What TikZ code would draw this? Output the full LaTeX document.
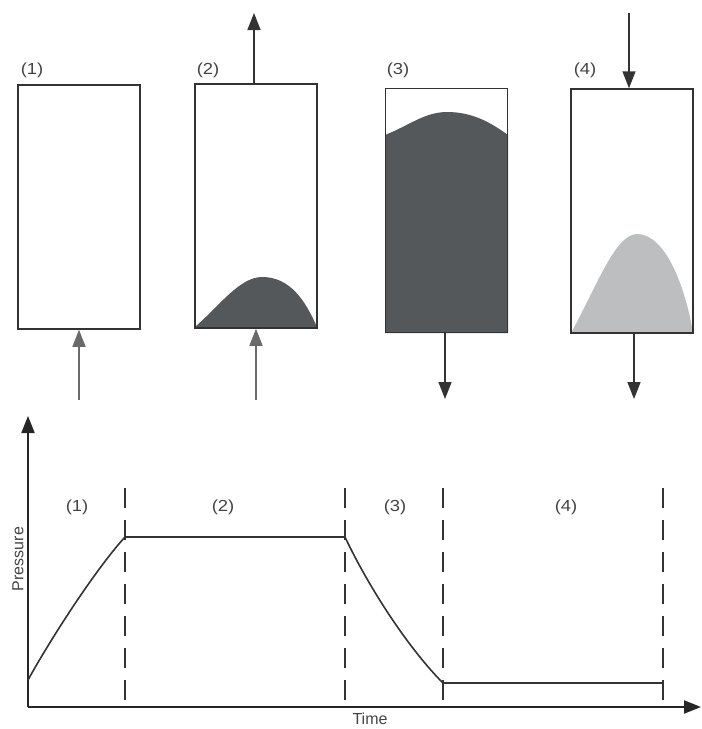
\documentclass[tikz,border=0pt]{standalone}
\usepackage{fontspec}
\setmainfont{Liberation Sans}
\usetikzlibrary{arrows.meta}
\definecolor{darkfill}{HTML}{55585A}
\definecolor{lightfill}{HTML}{BCBEC0}
\definecolor{inkgray}{HTML}{333333}
\definecolor{labelgray}{HTML}{444444}
\definecolor{feedgray}{HTML}{6A6A6A}
\tikzset{
  column/.style={draw=inkgray, line width=1.5pt, inner sep=0pt, minimum width=122pt, minimum height=244pt},
  tip/.style={-{Triangle[length=17pt,width=13pt]}},
  flow/.style={line width=1.6pt, draw=inkgray, tip},
  feed/.style={line width=1.6pt, draw=feedgray, tip},
  lbl/.style={text=labelgray, font=\fontsize{16}{19}\selectfont, inner sep=0pt},
  numlbl/.style={lbl, xscale=1.15},
  axis/.style={line width=2pt, draw=black!85, tip},
  phase/.style={line width=1.3pt, draw=inkgray, dash pattern=on 20pt off 12pt},
  trace/.style={line width=1.6pt, draw=inkgray}
}
\begin{document}
\begin{tikzpicture}[x=1pt, y=-1pt]
\useasboundingbox (0,0) rectangle (702,729);

% bed contents
\fill[darkfill] (195,327) .. controls (220,305) and (240,277) .. (262,277)
  .. controls (290,277) and (305,300) .. (317,327) -- cycle;
\fill[darkfill] (385,333) -- (385,135) .. controls (410,125) and (425,112) .. (447,112)
  .. controls (472,112) and (490,122) .. (508,135) -- (508,333) -- cycle;
\fill[lightfill] (571,333) .. controls (595,290) and (615,234) .. (637,234)
  .. controls (665,234) and (685,285) .. (693,333) -- cycle;

% adsorber columns
\node[column] (b1) at (79,207) {};
\node[column] (b2) at (256,206) {};
\node[column] (b3) at (446.5,210.5) {};
\node[column] (b4) at (632,211) {};

\node[numlbl] (l1) at (32,70) {(1)};
\node[numlbl] (l2) at (208,70) {(2)};
\node[numlbl] (l3) at (398,70) {(3)};
\node[numlbl] (l4) at (585,70) {(4)};

% streams
\coordinate (f1) at (79,400);
\coordinate (f2) at (256,400);
\coordinate (o2) at (254,13);
\coordinate (o3) at (445,399);
\coordinate (i4) at (629,13);
\coordinate (o4) at (634,399);
\draw[feed] (f1) -- (b1.south);
\draw[feed] (f2) -- (b2.south);
\draw[flow] (o2 |- b2.north) -- (o2);
\draw[flow] (o3 |- b3.south) -- (o3);
\draw[flow] (i4) -- (i4 |- b4.north);
\draw[flow] (o4 |- b4.south) -- (o4);

% pressure history
\coordinate (orig) at (28,707);
\coordinate (ytip) at (28,416);
\coordinate (xtip) at (701,707);
\draw[axis] (orig) -- (ytip);
\draw[axis] (orig) -- (xtip);

\foreach \x/\n in {125/d1, 345/d2, 443/d3, 663/d4}{
  \coordinate (\n) at (\x,488);
  \draw[phase] (\n) -- (\n |- orig);
}

\draw[trace] (28,680) .. controls (50,640) and (95,570) .. (125,537)
  -- (345,537) .. controls (370,590) and (410,650) .. (443,683) -- (663,683);

\node[numlbl] (p1) at (77,507) {(1)};
\node[numlbl] (p2) at (223,507) {(2)};
\node[numlbl] (p3) at (395,507) {(3)};
\node[numlbl] (p4) at (566,507) {(4)};

\node[lbl, rotate=90] (ylab) at (18,559) {Pressure};
\node[lbl] (xlab) at (370,719) {Time};
\end{tikzpicture}
\end{document}
